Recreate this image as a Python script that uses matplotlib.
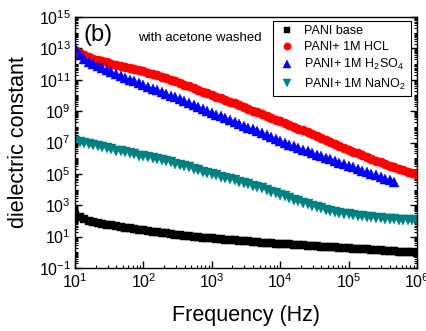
import numpy as np
import matplotlib
matplotlib.use("Agg")
import matplotlib.pyplot as plt
from matplotlib.ticker import FixedLocator, LogLocator, LogFormatterSciNotation, NullFormatter

plt.rcParams['font.family'] = ['Liberation Sans', 'DejaVu Sans']
plt.rcParams['mathtext.fontset'] = 'custom'
plt.rcParams['mathtext.rm'] = 'Liberation Sans'
plt.rcParams['mathtext.it'] = 'Liberation Sans:italic'
plt.rcParams['mathtext.bf'] = 'Liberation Sans:bold'

# measurement grid: 15 points per decade from 10 Hz to 1 MHz
freq = np.logspace(1, 6, 76)

# log10(dielectric constant)
pani_base = [2.38, 2.22, 2.10, 2.01, 1.94, 1.88, 1.82, 1.76, 1.71, 1.66, 1.62,
             1.57, 1.53, 1.49, 1.44, 1.40, 1.36, 1.32, 1.29, 1.25, 1.21,
             1.17, 1.13, 1.10, 1.06, 1.02, 0.99, 0.97, 0.94, 0.92, 0.89,
             0.86, 0.84, 0.81, 0.79, 0.76, 0.74, 0.71, 0.69, 0.66, 0.64,
             0.62, 0.60, 0.58, 0.56, 0.54, 0.52, 0.50, 0.49, 0.47, 0.45,
             0.43, 0.41, 0.39, 0.37, 0.35, 0.33, 0.31, 0.29, 0.27, 0.25,
             0.23, 0.21, 0.20, 0.18, 0.16, 0.14, 0.12, 0.10, 0.08, 0.06,
             0.04, 0.02, 0.01, -0.01, -0.03]
pani_hcl = [12.90, 12.70, 12.55, 12.44, 12.34, 12.26, 12.18, 12.10, 12.02, 11.95, 11.88,
            11.81, 11.74, 11.67, 11.60, 11.53, 11.45, 11.36, 11.28, 11.19, 11.11,
            11.00, 10.89, 10.79, 10.68, 10.57, 10.46, 10.35, 10.25, 10.14, 10.03,
            9.92, 9.81, 9.71, 9.60, 9.49, 9.38, 9.26, 9.15, 9.03, 8.92,
            8.80, 8.69, 8.57, 8.46, 8.34, 8.23, 8.11, 8.00, 7.88, 7.77,
            7.65, 7.53, 7.41, 7.29, 7.17, 7.04, 6.91, 6.79, 6.66, 6.53,
            6.42, 6.30, 6.19, 6.07, 5.96, 5.85, 5.74, 5.63, 5.52, 5.41,
            5.31, 5.22, 5.12, 5.03, 4.94]
pani_h2so4 = [13.03, 12.55, 12.30, 12.12, 11.99, 11.88, 11.76, 11.63, 11.50, 11.36, 11.23,
              11.12, 11.01, 10.90, 10.78, 10.67, 10.56, 10.44, 10.33, 10.21, 10.10,
              9.98, 9.87, 9.75, 9.64, 9.52, 9.39, 9.27, 9.14, 9.02, 8.89,
              8.77, 8.66, 8.54, 8.43, 8.31, 8.19, 8.07, 7.95, 7.83, 7.71,
              7.59, 7.47, 7.34, 7.22, 7.10, 6.99, 6.87, 6.76, 6.64, 6.53,
              6.43, 6.33, 6.22, 6.12, 6.02, 5.92, 5.82, 5.71, 5.61, 5.51,
              5.41, 5.31, 5.20, 5.10, 5.00, 4.90, 4.80, 4.69, 4.59, 4.49]
pani_nano2 = [7.10, 7.03, 6.96, 6.89, 6.82, 6.75, 6.69, 6.62, 6.56, 6.49, 6.43,
              6.37, 6.30, 6.24, 6.17, 6.11, 6.05, 5.99, 5.92, 5.86, 5.80,
              5.73, 5.65, 5.57, 5.49, 5.41, 5.32, 5.24, 5.15, 5.07, 4.98,
              4.90, 4.82, 4.74, 4.66, 4.58, 4.50, 4.42, 4.33, 4.25, 4.17,
              4.07, 3.97, 3.86, 3.76, 3.66, 3.56, 3.46, 3.35, 3.25, 3.15,
              3.06, 2.97, 2.89, 2.80, 2.71, 2.64, 2.58, 2.52, 2.47, 2.42,
              2.38, 2.34, 2.30, 2.26, 2.23, 2.20, 2.18, 2.15, 2.13, 2.10,
              2.08, 2.06, 2.05, 2.03, 2.01]

labels = ['PANI base', 'PANI+ 1M HCL',
          r'PANI+ 1M H$_\mathregular{2}$SO$_\mathregular{4}$',
          r'PANI+ 1M NaNO$_\mathregular{2}$']
series = [pani_base, pani_hcl, pani_h2so4, pani_nano2]
colors = ['#000000', '#ff0000', '#0000ff', '#008080']
markers = ['s', 'o', '^', 'v']
msizes = [5.6, 6.6, 7.0, 7.0]

fig = plt.figure(figsize=(4.27, 3.31), dpi=100)
ax = fig.add_axes([75/427, 1-268/331, 342/427, 251/331])

for vals, lab, c, m, ms in zip(series, labels, colors, markers, msizes):
    v = np.power(10.0, np.array(vals))
    ax.plot(freq[:len(v)], v, linestyle='none', marker=m, color=c,
            markersize=ms, markeredgewidth=0.3, markeredgecolor=c, label=lab)

ax.set_xscale('log')
ax.set_yscale('log')
ax.set_xlim(10, 1e6)
ax.set_ylim(1e-1, 1e15)

ax.yaxis.set_major_locator(FixedLocator([10.0**k for k in range(-1, 16, 2)]))
ax.yaxis.set_major_formatter(LogFormatterSciNotation())
ax.yaxis.set_minor_locator(LogLocator(base=10, subs=np.arange(1, 10), numticks=200))
ax.yaxis.set_minor_formatter(NullFormatter())
ax.xaxis.set_major_locator(LogLocator(base=10, numticks=20))
ax.xaxis.set_minor_locator(LogLocator(base=10, subs=np.arange(2, 10), numticks=200))
ax.xaxis.set_minor_formatter(NullFormatter())

ax.tick_params(axis='both', which='both', direction='in', labelsize=11.5)
ax.tick_params(axis='y', which='both', right=True)
ax.tick_params(which='major', length=5, width=1.0, pad=3)
ax.tick_params(which='minor', length=2.5, width=0.8)
for s in ax.spines.values():
    s.set_linewidth(1.0)

ax.set_xlabel('Frequency (Hz)', fontsize=15.5)
ax.set_ylabel('dielectric constant', fontsize=15.5)
ax.xaxis.label.set_va('center')
ax.yaxis.label.set_va('center')
ax.xaxis.set_label_coords(0.5, -0.19)
ax.yaxis.set_label_coords(-0.165, 0.5)

ax.text(0.024, 0.93, '(b)', transform=ax.transAxes, fontsize=17, va='center', ha='left')
ax.text(0.185, 0.915, 'with acetone washed', transform=ax.transAxes, fontsize=9.5,
        va='center', ha='left')

leg = ax.legend(loc='upper right', bbox_to_anchor=(0.982, 0.984), borderaxespad=0,
                fontsize=9, frameon=True, fancybox=False, edgecolor='black',
                framealpha=1, handletextpad=0.6, borderpad=0.35, labelspacing=0.32,
                handlelength=1.6, markerscale=0.8)
leg.get_frame().set_linewidth(0.8)

fig.savefig('out.png', dpi=100)
